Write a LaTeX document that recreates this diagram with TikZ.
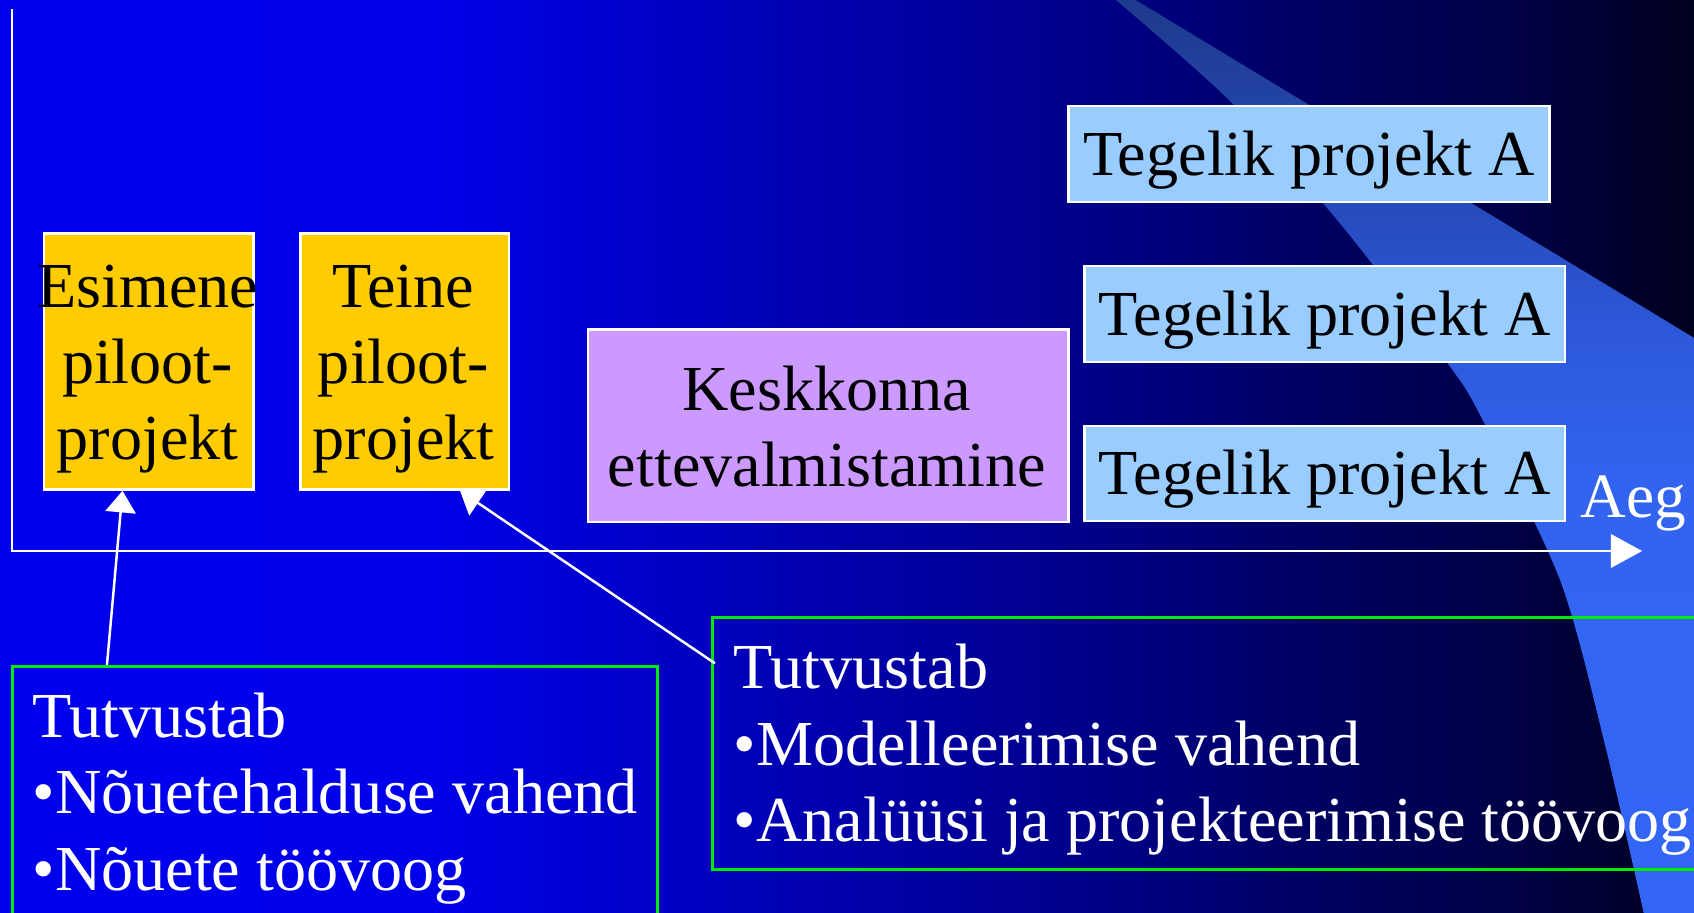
\documentclass[tikz,border=0pt]{standalone}
\usepackage{fontspec}
\setmainfont{Liberation Serif}
\usetikzlibrary{arrows.meta,calc}

% background: blue on the left fading to near black on the right
\definecolor{bgA}{RGB}{0,0,238}
\definecolor{bgB}{RGB}{0,0,234}
\definecolor{bgC}{RGB}{0,0,182}
\definecolor{bgD}{RGB}{0,0,138}
\definecolor{bgE}{RGB}{0,0,102}
\definecolor{bgF}{RGB}{0,0,72}
\definecolor{bgG}{RGB}{0,0,30}
\pgfdeclarehorizontalshading{bgfade}{100bp}{color(0bp)=(bgA); color(25bp)=(bgA);
  color(37.5bp)=(bgB); color(47.5bp)=(bgC); color(57bp)=(bgD); color(63bp)=(bgE);
  color(69.25bp)=(bgF); color(75bp)=(bgG); color(100bp)=(bgG)}

% the light swoosh: muted at the top, bright blue towards the bottom
\definecolor{swA}{RGB}{30,58,140}
\definecolor{swB}{RGB}{40,76,190}
\definecolor{swC}{RGB}{46,90,222}
\definecolor{swD}{RGB}{50,100,240}
\definecolor{swE}{RGB}{51,102,245}
\pgfdeclareverticalshading{swoosh}{100bp}{color(0bp)=(swE); color(25bp)=(swE);
  color(48.4bp)=(swD); color(55.5bp)=(swC); color(63.2bp)=(swB); color(75bp)=(swA);
  color(100bp)=(swA)}

\definecolor{pilotyellow}{RGB}{255,204,0}
\definecolor{envlilac}{RGB}{204,153,255}
\definecolor{realblue}{RGB}{153,204,255}
\definecolor{notegreen}{RGB}{0,235,0}

\begin{document}
\begin{tikzpicture}[x=1pt,y=-1pt,
  txt/.style={font=\fontsize{59.4}{70.5}\selectfont, inner sep=0pt},
  notetxt/.style={font=\fontsize{59.4}{71}\selectfont, inner sep=0pt, text=white,
    align=left, anchor=north west},
  box/.style={draw=white, line width=2.3pt, inner sep=0pt, anchor=north west},
  pilot/.style={box, fill=pilotyellow, minimum width=194pt, minimum height=237pt},
  env/.style={box, fill=envlilac, minimum width=445pt, minimum height=178pt},
  real/.style={box, fill=realblue, minimum width=445pt, minimum height=89pt,
    font=\fontsize{59.4}{70.5}\selectfont, text height=40pt, text depth=0pt},
  note/.style={draw=notegreen, line width=2.5pt, inner sep=0pt, anchor=north west},
  axisline/.style={draw=white, line width=2.3pt, -{Triangle[length=29pt,width=31pt]}},
  link/.style={draw=white, line width=2.3pt, -{Triangle[length=20pt,width=28pt]}},
]
\useasboundingbox (0,0) rectangle (1568,845);
\clip (0,0) rectangle (1568,845);

% backdrop
\shade[shading=bgfade] (0,0) rectangle (1568,845);
\shade[shading=swoosh]
  plot[smooth] coordinates {(1027,-5) (1138,93) (1238,204) (1339,335) (1372,388)
    (1444,537) (1486,691) (1523,852)}
  -- (1580,852) -- (1580,320) -- (1043,-5) -- cycle;

% time axis
\coordinate (ytop) at (11,8);
\coordinate (origin) at (11,510);
\coordinate (xtip) at (1520,510);
\draw[axisline] (ytop) -- (origin) -- (xtip);
\node[txt, font=\fontsize{58.5}{70.5}\selectfont, text=white, anchor=base west]
  (aeg) at (1463,479) {Aeg};

% note boxes
\node[note, minimum width=597pt, minimum height=260pt] (lnote) at (10.3,615.5) {};
\node[note, minimum width=950pt, minimum height=233pt] (rnote) at (658,570.5) {};

% project boxes
\node[pilot] (esim) at (39.7,215) {};
\node[pilot, minimum width=193pt] (teine) at (277,215) {};
\node[env] (env) at (543,304) {};
\node[real] (real1) at (988,97) {Tegelik projekt A};
\node[real] (real2) at (1002.5,245) {Tegelik projekt A};
\node[real, minimum height=88pt] (real3) at (1002.5,393) {Tegelik projekt A};

% links from the notes to the pilot projects
\coordinate (l1tail) at ([xshift=88.7pt]lnote.north west);
\coordinate (l1tip) at ([xshift=73.7pt]esim.south west);
\coordinate (l2tail) at ([xshift=3.8pt,yshift=-43.5pt]rnote.north west);
\coordinate (l2tip) at ([xshift=148.8pt]teine.south west);
\draw[link] (l1tail) -- (l1tip);
\draw[link] (l2tail) -- (l2tip);
% redraw the pilot boxes over the arrow heads
\node[pilot] at (39.7,215) {};
\node[pilot, minimum width=193pt] at (277,215) {};

% box texts
\node[txt, align=center, anchor=north] (esimtxt) at (136.6,234.65)
  {\strut Esimene\\\strut piloot-\\\strut projekt};
\node[txt, align=center, anchor=north] (teinetxt) at (373.5,234.65)
  {\strut Teine\\\strut piloot-\\\strut projekt};
\node[txt, align=center, anchor=north] (envtxt) at (765.5,330.15)
  {\strut Keskkonna\\\strut ettevalmistamine};

\node[notetxt] (lnotetxt) at (30,632.3)
  {\strut Tutvustab\\\strut •Nõuetehalduse vahend\\\strut •Nõuete töövoog};
\node[notetxt] (rnotetxt) at (679,587.3)
  {\strut Tutvustab\\\strut •Modelleerimise vahend\\\strut •Analüüsi ja projekteerimise töövoog};
\end{tikzpicture}
\end{document}
